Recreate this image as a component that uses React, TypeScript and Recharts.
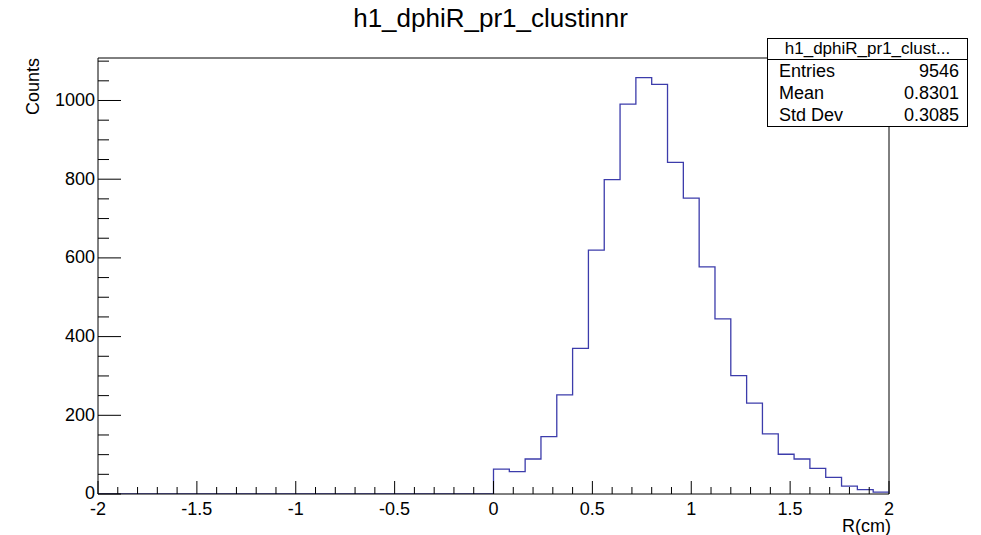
import { ComposedChart, Line, XAxis, YAxis, ReferenceLine } from 'recharts';

// histogram h1_dphiR_pr1_clustinnr, bins of 0.08 starting at R = 0
const binWidth = 0.08;
const firstEdge = 0;
const counts = [
  63, 57, 89, 146, 252, 370, 620, 799, 991, 1058, 1041, 843, 752,
  577, 445, 301, 231, 153, 101, 89, 65, 42, 20, 11, 5,
];
const xMajorTicks = [-2, -1.5, -1, -0.5, 0, 0.5, 1, 1.5, 2];
const yMajorTicks = [0, 200, 400, 600, 800, 1000];
const statNames = ['Entries', 'Mean', 'Std Dev'];
const statValues = ['9546', '0.8301', '0.3085'];

const xMin = -2;
const xMax = 2;
const yMax = 1108;

const font = '"Liberation Sans", Arial, sans-serif';

const round = (v: number) => Math.round(v * 1000) / 1000;

const data = [
  { x: xMin, y: 0 },
  ...counts.map((c, i) => ({ x: round(firstEdge + i * binWidth), y: c })),
  { x: xMax, y: counts[counts.length - 1] },
];

// ROOT style: majors + minor ticks
const xTicks: number[] = [];
for (let i = 0; i <= 40; i++) xTicks.push(round(xMin + i * 0.1));
const yTicks: number[] = [];
for (let i = 0; i <= 22; i++) yTicks.push(i * 50);

const XTick = (props: any) => {
  const { x, y, payload } = props;
  const v = payload.value;
  const major = xMajorTicks.some((m) => Math.abs(m - v) < 1e-6);
  return (
    <g>
      <line x1={x} x2={x} y1={y} y2={y - (major ? 13 : 7)} stroke="#000" />
      {major && (
        <text x={x} y={y + 21} textAnchor="middle" fontSize={18} fontFamily={font} fill="#000">
          {v}
        </text>
      )}
    </g>
  );
};

const YTick = (props: any) => {
  const { x, y, payload } = props;
  const v = payload.value;
  const major = yMajorTicks.includes(v);
  return (
    <g>
      <line x1={x} x2={x + (major ? 23 : 11)} y1={y} y2={y} stroke="#000" />
      {major && (
        <text x={x - 3} y={y} dy="0.3em" textAnchor="end" fontSize={18} fontFamily={font} fill="#000">
          {v}
        </text>
      )}
    </g>
  );
};

export default function App() {
  return (
    <div style={{ position: 'absolute', left: 0, top: 0, width: 981, height: 535, background: '#fff', fontFamily: font }}>
      <ComposedChart
        width={981}
        height={535}
        data={data}
        margin={{ top: 58, right: 92, bottom: 11, left: 38 }}
      >
        <XAxis
          dataKey="x"
          type="number"
          domain={[xMin, xMax]}
          ticks={xTicks}
          interval={0}
          height={30}
          tickLine={false}
          tickSize={0}
          tickMargin={0}
          tick={<XTick />}
          axisLine={{ stroke: '#000' }}
          allowDataOverflow
        />
        <YAxis
          type="number"
          domain={[0, yMax]}
          ticks={yTicks}
          interval={0}
          width={60}
          tickLine={false}
          tickSize={0}
          tickMargin={0}
          tick={<YTick />}
          axisLine={{ stroke: '#000' }}
          allowDataOverflow
        />
        <ReferenceLine y={yMax} stroke="#000" />
        <ReferenceLine x={xMax} stroke="#000" />
        <Line
          dataKey="y"
          type="stepAfter"
          stroke="#3c3cab"
          strokeWidth={1.3}
          dot={false}
          activeDot={false}
          isAnimationActive={false}
        />
      </ComposedChart>

      <div style={{ position: 'absolute', left: 0, width: 981, top: 4, textAlign: 'center', fontSize: 26, lineHeight: '28px' }}>
        h1_dphiR_pr1_clustinnr
      </div>

      <div
        style={{
          position: 'absolute',
          left: 23,
          top: 58,
          fontSize: 18,
          transformOrigin: 'left top',
          transform: 'rotate(-90deg) translate(-100%, 0)',
          whiteSpace: 'nowrap',
          lineHeight: '20px',
        }}
      >
        Counts
      </div>

      <div style={{ position: 'absolute', right: 981 - 891, top: 517, fontSize: 18, lineHeight: '18px' }}>R(cm)</div>

      <div
        style={{
          position: 'absolute',
          left: 767,
          top: 38,
          width: 199,
          height: 87,
          border: '1px solid #000',
          background: '#fff',
          fontSize: 18,
        }}
      >
        <div style={{ height: 20, lineHeight: '20px', textAlign: 'center', borderBottom: '1px solid #000', fontSize: 17 }}>
          h1_dphiR_pr1_clust...
        </div>
        {statNames.map((n, i) => (
          <div key={n} style={{ display: 'flex', justifyContent: 'space-between', height: 22, lineHeight: '22px', padding: '0 8px 0 11px' }}>
            <span>{n}</span>
            <span>{statValues[i]}</span>
          </div>
        ))}
      </div>
    </div>
  );
}
